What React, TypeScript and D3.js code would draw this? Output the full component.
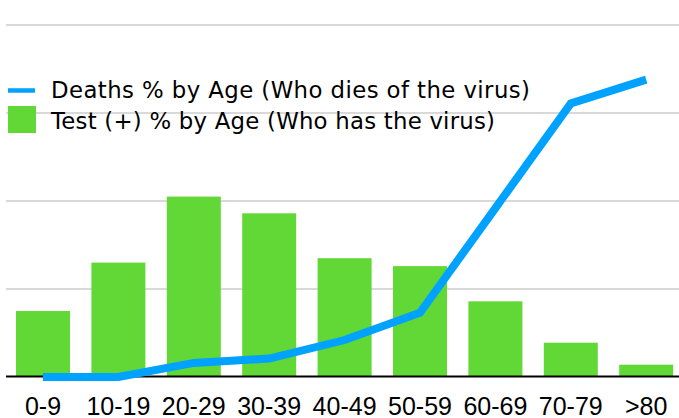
import React from "react";
import * as d3 from "d3";

const categories = ["0-9", "10-19", "20-29", "30-39", "40-49", "50-59", "60-69", "70-79", ">80"];
const testPositive = [7.5, 13, 20.5, 18.6, 13.5, 12.6, 8.6, 3.9, 1.4];
const deaths = [0, 0, 1.6, 2.1, 4.2, 7.3, 19.2, 31.1, 33.8];
const gridTicks = [10, 20, 30, 40];
const legendLabels = ["Deaths % by Age (Who dies of the virus)", "Test (+) % by Age (Who has the virus)"];

const W = 679;
const H = 418;
const BLUE = "#00a2ff";
const GREEN = "#61d836";
const FONT = "'Liberation Sans', Arial, Helvetica, sans-serif";
const LEGEND_FONT = "'DejaVu Sans', 'Liberation Sans', sans-serif";

export default function App() {
  const x = d3
    .scaleBand<string>()
    .domain(categories)
    .range([5.3, 683.9])
    .paddingInner(0.284)
    .paddingOuter(0.142);
  const y = d3.scaleLinear().domain([0, 40]).range([377, 25]);
  const cx = (c: string) => (x(c) as number) + x.bandwidth() / 2;
  const line = d3
    .line<number>()
    .x((_, i) => cx(categories[i]))
    .y((d) => y(d));

  return (
    <svg
      width={W}
      height={H}
      style={{ position: "absolute", left: 0, top: 0, background: "#fff" }}
      fontFamily={FONT}
    >
      {gridTicks.map((t) => (
        <line key={t} x1={6} x2={W} y1={y(t)} y2={y(t)} stroke="#cccccc" strokeWidth={1.5} />
      ))}
      {categories.map((c, i) => (
        <rect
          key={c}
          x={x(c)}
          y={y(testPositive[i])}
          width={x.bandwidth()}
          height={y(0) - y(testPositive[i])}
          fill={GREEN}
        />
      ))}
      <line x1={6} x2={W} y1={376.5} y2={376.5} stroke="#000" strokeWidth={2} />
      <path d={line(deaths) || ""} fill="none" stroke={BLUE} strokeWidth={8} strokeLinejoin="miter" strokeLinecap="butt" />
      {categories.map((c) => (
        <text key={c} x={cx(c)} y={415} textAnchor="middle" fontSize={25} fill="#000">
          {c}
        </text>
      ))}
      <line x1={8} x2={35} y1={90.5} y2={90.5} stroke={BLUE} strokeWidth={4.5} />
      <rect x={8} y={106} width={28} height={27} fill={GREEN} />
      <text x={51} y={98} fontSize={22.8} fontFamily={LEGEND_FONT} fill="#000" textLength={479} lengthAdjust="spacing">
        {legendLabels[0]}
      </text>
      <text x={51} y={129} fontSize={22.8} fontFamily={LEGEND_FONT} fill="#000" textLength={444} lengthAdjust="spacing">
        {legendLabels[1]}
      </text>
    </svg>
  );
}
